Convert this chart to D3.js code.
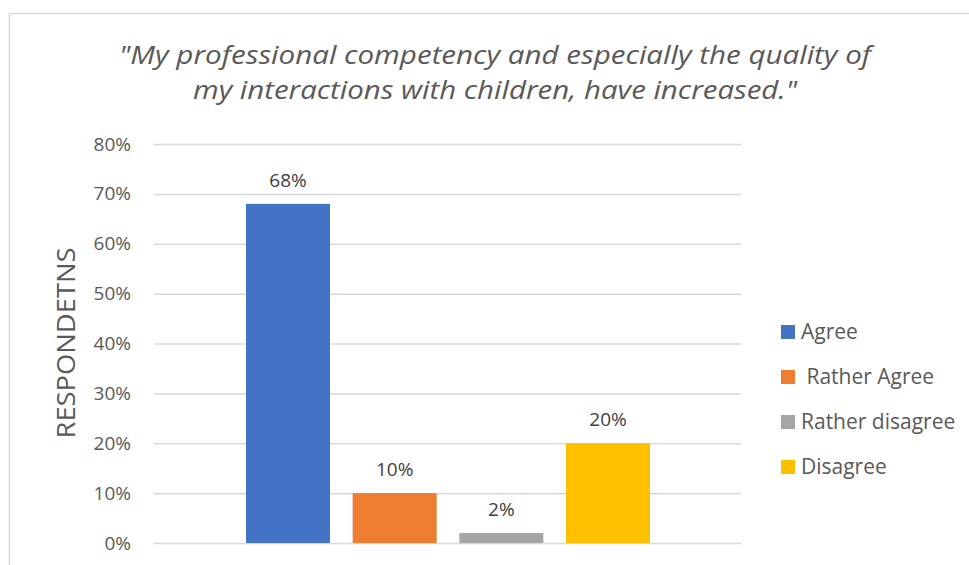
<!DOCTYPE html>
<html>
<head>
<meta charset="utf-8">
<script src="https://cdn.jsdelivr.net/npm/d3@7"></script>
<style>
  html, body { margin: 0; padding: 0; background: #fff; }
  svg { display: block; }
</style>
</head>
<body>
<svg id="chart" width="969" height="565"></svg>
<script>
// Survey answers and their shares (percent of respondents)
const categories = ["Agree", " Rather Agree", "Rather disagree", "Disagree"];
const values = [68, 10, 2, 20];
const colors = ["#4472C4", "#ED7D31", "#A5A5A5", "#FFC000"];
const yTicks = [0, 10, 20, 30, 40, 50, 60, 70, 80];
const titleLines = [
  "\"My professional competency and especially the quality of",
  "my interactions with children, have increased.\""
];
const yAxisTitle = "RESPONDETNS";

const svg = d3.select("#chart");
const W = 969, H = 565;
const plot = { left: 154, right: 741, top: 144, bottom: 543 };
const font = "'Open Sans', sans-serif";

// Chart frame (only the top and left edges are inside the view)
svg.append("path")
  .attr("d", `M9.5,${H} V13.5 H${W}`)
  .attr("fill", "none")
  .attr("stroke", "#D9D9D9")
  .attr("stroke-width", 1.5);

const y = d3.scaleLinear().domain([0, 80]).range([plot.bottom, plot.top]);
const x = d3.scaleBand().domain(categories).range([246, 650])
  .paddingInner(0.2125).paddingOuter(0);

// Gridlines and tick labels
const yAxis = d3.axisLeft(y).tickValues(yTicks).tickSize(-(plot.right - plot.left))
  .tickPadding(23).tickFormat(d => d + "%");
const gy = svg.append("g").attr("transform", `translate(${plot.left},0)`).call(yAxis);
gy.select(".domain").remove();
gy.selectAll(".tick line").attr("stroke", "#D9D9D9").attr("stroke-width", 1.5);
gy.selectAll(".tick text")
  .attr("fill", "#595959")
  .style("font-family", font)
  .style("font-size", "19px");

// Bars
svg.append("g").selectAll("rect").data(categories).join("rect")
  .attr("x", d => x(d))
  .attr("width", x.bandwidth())
  .attr("y", (d, i) => y(values[i]))
  .attr("height", (d, i) => y(0) - y(values[i]))
  .attr("fill", (d, i) => colors[i]);

// Value labels above bars
svg.append("g").selectAll("text").data(categories).join("text")
  .attr("x", d => x(d) + x.bandwidth() / 2)
  .attr("y", (d, i) => y(values[i]) - 17)
  .attr("text-anchor", "middle")
  .attr("fill", "#404040")
  .style("font-family", font)
  .style("font-size", "19px")
  .text((d, i) => values[i] + "%");

// Title
const titleWidths = [752, 604];
svg.append("g").selectAll("text").data(titleLines).join("text")
  .attr("x", 495)
  .attr("y", (d, i) => 64 + i * 35)
  .attr("text-anchor", "middle")
  .attr("textLength", (d, i) => titleWidths[i])
  .attr("lengthAdjust", "spacingAndGlyphs")
  .attr("fill", "#595959")
  .style("font-family", font)
  .style("font-style", "italic")
  .style("font-size", "25px")
  .text(d => d);

// Y axis title
svg.append("text")
  .attr("transform", `translate(75,343) rotate(-90)`)
  .attr("text-anchor", "middle")
  .attr("textLength", 191)
  .attr("lengthAdjust", "spacingAndGlyphs")
  .attr("fill", "#595959")
  .style("font-family", font)
  .style("font-size", "25px")
  .text(yAxisTitle);

// Legend
const legend = svg.append("g").selectAll("g").data(categories).join("g")
  .attr("transform", (d, i) => `translate(781,${332 + i * 45})`);
legend.append("rect")
  .attr("x", 0).attr("y", -7).attr("width", 14).attr("height", 14)
  .attr("fill", (d, i) => colors[i]);
legend.append("text")
  .attr("x", 20).attr("y", 0).attr("dy", "0.35em")
  .attr("fill", "#595959")
  .attr("xml:space", "preserve")
  .style("white-space", "pre")
  .style("font-family", font)
  .style("font-size", "21px")
  .text(d => d);
</script>
</body>
</html>
